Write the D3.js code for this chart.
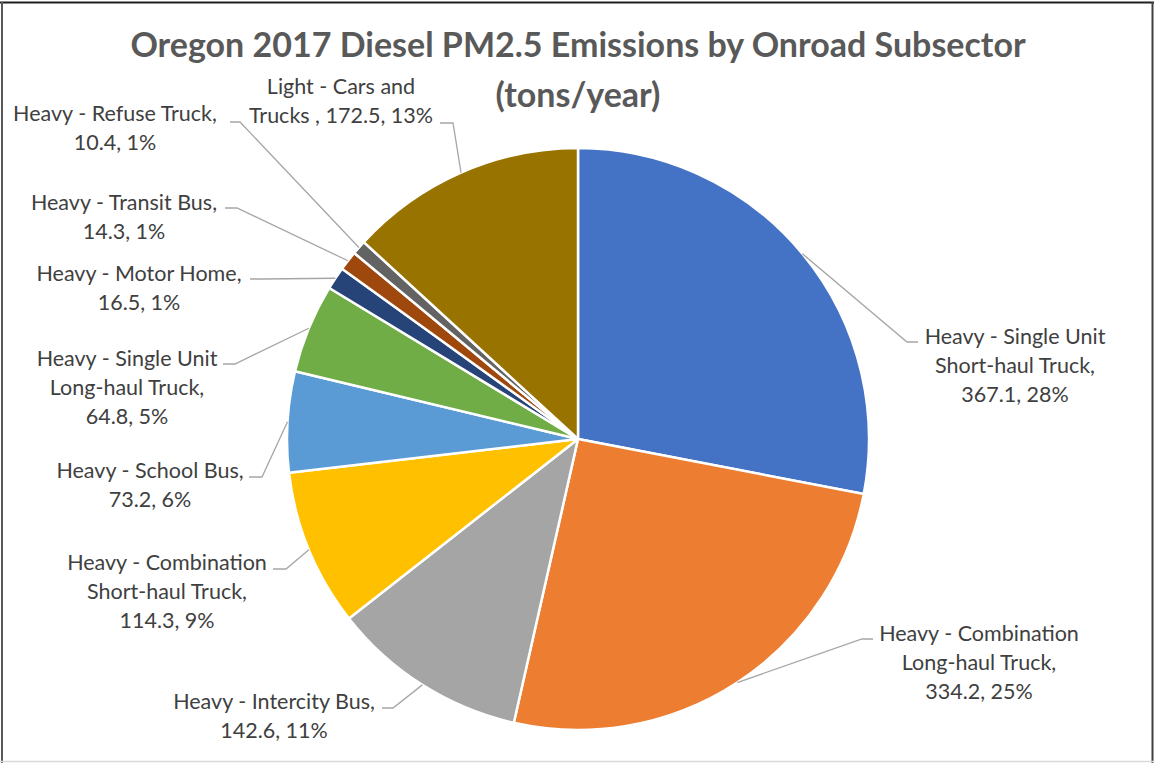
<!DOCTYPE html>
<html>
<head>
<meta charset="utf-8">
<script src="https://cdn.jsdelivr.net/npm/d3@7"></script>
<style>
  body { margin: 0; background: #fff; }
  svg { display: block; font-family: Lato, "Open Sans", sans-serif; }
</style>
</head>
<body>
<div id="chart"></div>
<script>
const categories = [
  "Heavy - Single Unit Short-haul Truck",
  "Heavy - Combination Long-haul Truck",
  "Heavy - Intercity Bus",
  "Heavy - Combination Short-haul Truck",
  "Heavy - School Bus",
  "Heavy - Single Unit Long-haul Truck",
  "Heavy - Motor Home",
  "Heavy - Transit Bus",
  "Heavy - Refuse Truck",
  "Light - Cars and Trucks "
];
const values = [367.1, 334.2, 142.6, 114.3, 73.2, 64.8, 16.5, 14.3, 10.4, 172.5];
const titleLines = ["Oregon 2017 Diesel PM2.5 Emissions by Onroad Subsector", "(tons/year)"];

const colors = ["#4472C4", "#ED7D31", "#A5A5A5", "#FFC000", "#5B9BD5",
  "#70AD47", "#264478", "#9E480E", "#636363", "#997300"];

// where each data label sits: leader elbow, end of the short horizontal,
// text centre, first-line centre, and words per line
const labelLayout = [
  { elbow: [907, 342], endX: 918, tx: 1015, ty: 336, words: [4, 2, 2] },
  { elbow: [862, 639], endX: 873, tx: 979, ty: 633, words: [3, 2, 2] },
  { elbow: [393, 708], endX: 382, tx: 274, ty: 701, words: [4, 2] },
  { elbow: [286, 569], endX: 273, tx: 167, ty: 562, words: [3, 2, 2] },
  { elbow: [262, 477], endX: 249, tx: 150, ty: 470, words: [4, 2] },
  { elbow: [235, 364], endX: 223, tx: 127, ty: 358, words: [4, 2, 2] },
  { elbow: [262, 279], endX: 250, tx: 139, ty: 273, words: [4, 2] },
  { elbow: [237, 208], endX: 225, tx: 124, ty: 202, words: [4, 2] },
  { elbow: [240, 122], endX: 230, tx: 115, ty: 113, words: [4, 2] },
  { elbow: [453, 123], endX: 440, tx: 341, ty: 86, words: [4, 4] }
];

const width = 1154, height = 763;
const cx = 578, cy = 439, radius = 291;
const lineHeight = 29;

// Excel-style percentages: largest remainder so they add to 100
function percents(vals) {
  const total = d3.sum(vals);
  const raw = vals.map(v => v / total * 100);
  const out = raw.map(Math.floor);
  let left = 100 - d3.sum(out);
  d3.range(raw.length)
    .sort((a, b) => (raw[b] - out[b]) - (raw[a] - out[a]))
    .forEach(i => { if (left > 0) { out[i] += 1; left -= 1; } });
  return out;
}

const pcts = percents(values);
const data = categories.map((c, i) => ({
  category: c, value: values[i], pct: pcts[i], layout: labelLayout[i], color: colors[i]
}));

const svg = d3.select("#chart").append("svg")
  .attr("width", width)
  .attr("height", height);

svg.append("rect").attr("width", width).attr("height", height).attr("fill", "#fff");

// frame
svg.append("line").attr("x1", 0).attr("x2", width).attr("y1", 2.5).attr("y2", 2.5)
  .attr("stroke", "#1f1f1f").attr("stroke-width", 2);
svg.append("line").attr("x1", 2).attr("x2", 2).attr("y1", 2).attr("y2", height)
  .attr("stroke", "#595959").attr("stroke-width", 2);
svg.append("line").attr("x1", 1152.5).attr("x2", 1152.5).attr("y1", 2).attr("y2", height)
  .attr("stroke", "#404040").attr("stroke-width", 2);
svg.append("line").attr("x1", 0).attr("x2", width).attr("y1", 761.5).attr("y2", 761.5)
  .attr("stroke", "#d9d9d9").attr("stroke-width", 1.5);

svg.append("text")
  .attr("class", "title")
  .attr("text-anchor", "middle")
  .attr("fill", "#595959")
  .attr("font-weight", "bold")
  .attr("font-size", 34)
  .selectAll("tspan")
  .data(titleLines)
  .join("tspan")
  .attr("x", cx)
  .attr("y", (d, i) => 57 + i * 50)
  .text(d => d);

const pie = d3.pie().sort(null).value(d => d.value);
const arc = d3.arc().innerRadius(0).outerRadius(radius);
const arcs = pie(data);

const g = svg.append("g").attr("transform", `translate(${cx},${cy})`);

g.selectAll("path.slice")
  .data(arcs)
  .join("path")
  .attr("class", "slice")
  .attr("d", arc)
  .attr("fill", d => d.data.color)
  .attr("stroke", "#fff")
  .attr("stroke-width", 2.5)
  .attr("stroke-linejoin", "round");

// leader lines
const edge = d => {
  const a = (d.startAngle + d.endAngle) / 2;
  return [cx + radius * Math.sin(a), cy - radius * Math.cos(a)];
};

svg.append("g")
  .selectAll("path")
  .data(arcs)
  .join("path")
  .attr("fill", "none")
  .attr("stroke", "#a6a6a6")
  .attr("stroke-width", 1.3)
  .attr("d", d => {
    const L = d.data.layout;
    return d3.line()([edge(d), L.elbow, [L.endX, L.elbow[1]]]);
  });

// labels
function labelLines(d) {
  const words = `${d.category}, ${d.value}, ${d.pct}%`.split(" ");
  const lines = [];
  let k = 0;
  d.layout.words.forEach(n => {
    lines.push(words.slice(k, k + n).join(" "));
    k += n;
  });
  return lines;
}

svg.append("g")
  .selectAll("text")
  .data(arcs)
  .join("text")
  .attr("text-anchor", "middle")
  .attr("fill", "#404040")
  .attr("font-size", 21.5)
  .each(function (d) {
    const L = d.data.layout;
    d3.select(this).selectAll("tspan")
      .data(labelLines(d.data))
      .join("tspan")
      .attr("x", L.tx)
      .attr("y", (t, i) => L.ty + i * lineHeight)
      .attr("dy", "0.35em")
      .text(t => t);
  });
</script>
</body>
</html>
